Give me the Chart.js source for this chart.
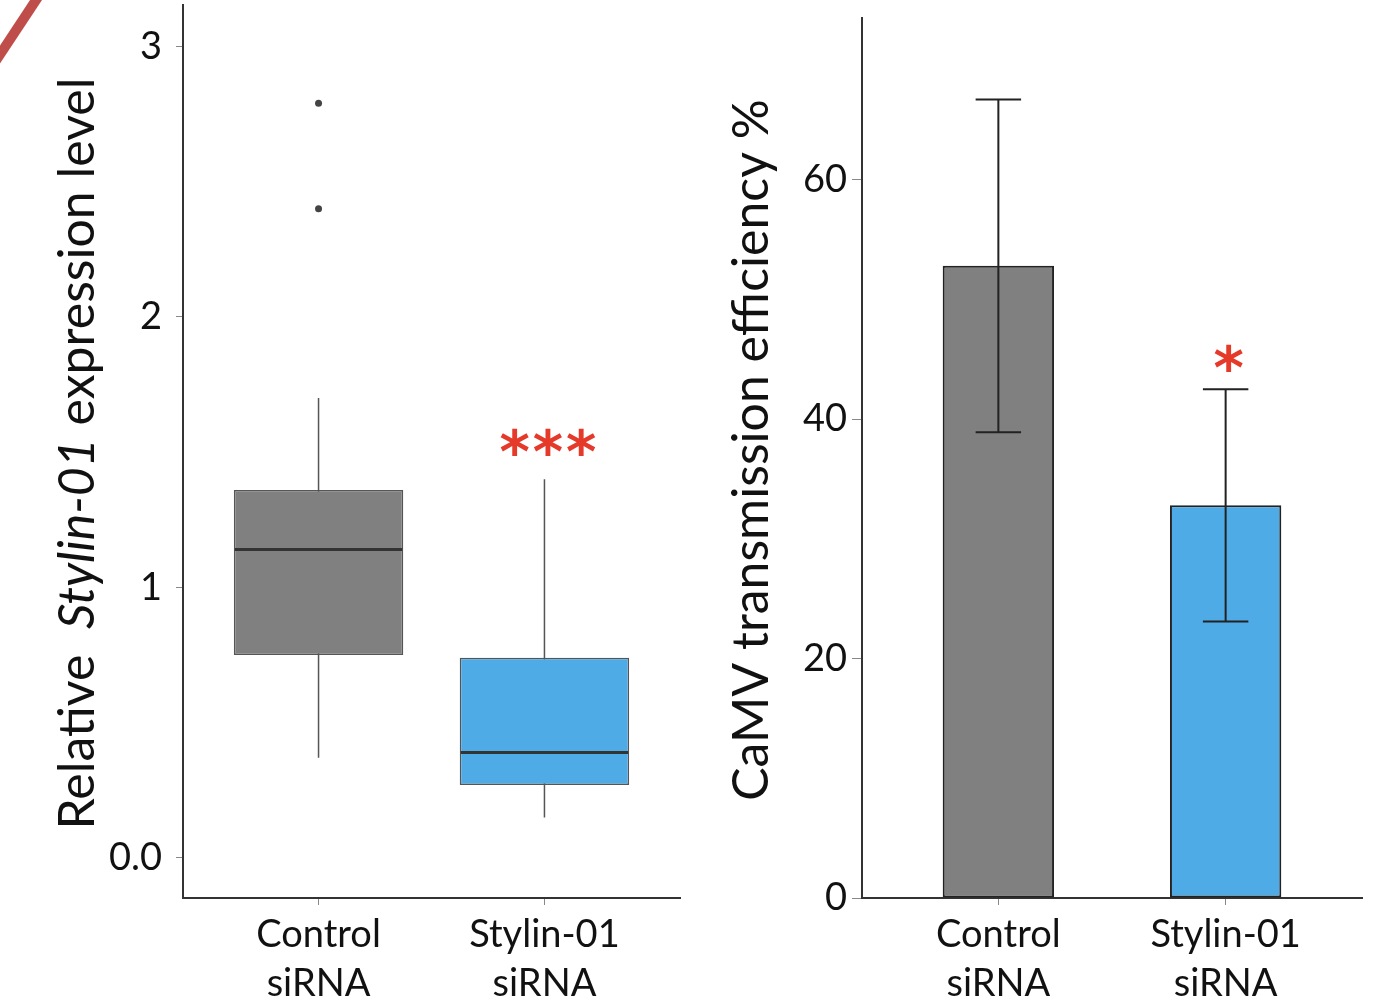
<!DOCTYPE html>
<html>
<head>
<meta charset="utf-8">
<script src="https://cdn.jsdelivr.net/npm/chart.js@4"></script>
<style>
  body { margin: 0; background: #fff; width: 1384px; height: 1000px; position: relative; overflow: hidden; }
  .wrap { position: absolute; top: 0; height: 1000px; }
</style>
</head>
<body>
<div class="wrap" style="left:0;width:690px"><canvas id="left"></canvas></div>
<div class="wrap" style="left:690px;width:694px"><canvas id="right"></canvas></div>
<script>
// categories
const categories = [['Control', 'siRNA'], ['Stylin-01', 'siRNA']];
const barColors = ['#808080', '#4FABE6'];

// left panel: box plot of relative expression
const boxQ1 = [0.75, 0.27];
const boxMedian = [1.14, 0.39];
const boxQ3 = [1.36, 0.74];
const whiskerLow = [0.37, 0.15];
const whiskerHigh = [1.70, 1.40];
const outliers = [[2.79, 2.40], []];
const boxSignif = ['', '***'];
const leftTicks = [0, 1, 2, 3];

// right panel: transmission efficiency (mean +/- error)
const efficiency = [52.8, 32.8];
const efficiencyErr = [13.9, 9.7];
const effSignif = ['', '*'];
const rightTicks = [0, 20, 40, 60];

const FONT = 'Lato';
const RED = '#E5392A';

function noPad(s) {
  s.paddingTop = 0; s.paddingBottom = 0; s.paddingLeft = 0; s.paddingRight = 0;
}

function xScaleOpts() {
  return {
    type: 'linear', min: 0.4, max: 2.6, offset: false,
    afterBuildTicks: s => { s.ticks = categories.map((c, i) => ({ value: i + 1 })); },
    afterFit: s => { s.height = 102; noPad(s); },
    ticks: {
      autoSkip: false, maxRotation: 0, color: '#111', padding: 5,
      font: { family: FONT, size: 38, lineHeight: 1.3 },
      callback: v => categories[v - 1] || ''
    },
    grid: { offset: false, drawOnChartArea: false, drawTicks: true, tickLength: 7, color: '#888' },
    border: { color: '#333', width: 2 }
  };
}

// rotated y title, parts may be italic; dy shifts it along the axis
function yTitle(parts, x, dy) {
  return {
    id: 'ytitle',
    afterDraw(chart) {
      const ctx = chart.ctx;
      const a = chart.chartArea;
      ctx.save();
      ctx.translate(x, (a.top + a.bottom) / 2 + dy);
      ctx.rotate(-Math.PI / 2);
      ctx.fillStyle = '#111';
      ctx.textBaseline = 'middle';
      let total = 0;
      parts.forEach(p => {
        ctx.font = (p.italic ? 'italic ' : '') + '50px ' + FONT;
        p.w = ctx.measureText(p.t).width;
        total += p.w;
      });
      let cx = -total / 2;
      parts.forEach(p => {
        ctx.font = (p.italic ? 'italic ' : '') + '50px ' + FONT;
        ctx.fillText(p.t, cx, 0);
        cx += p.w;
      });
      ctx.restore();
    }
  };
}

const boxPlugin = {
  id: 'boxparts',
  beforeDatasetsDraw(chart) {
    const { ctx, scales: { x, y } } = chart;
    ctx.save();
    ctx.strokeStyle = '#555';
    ctx.lineWidth = 1.5;
    categories.forEach((c, i) => {
      const px = x.getPixelForValue(i + 1);
      ctx.beginPath();
      ctx.moveTo(px, y.getPixelForValue(whiskerLow[i]));
      ctx.lineTo(px, y.getPixelForValue(whiskerHigh[i]));
      ctx.stroke();
    });
    ctx.restore();
  },
  afterDatasetsDraw(chart) {
    const { ctx, scales: { x, y } } = chart;
    const meta = chart.getDatasetMeta(0);
    ctx.save();
    categories.forEach((c, i) => {
      const bar = meta.data[i];
      const py = y.getPixelForValue(boxMedian[i]);
      ctx.strokeStyle = '#333';
      ctx.lineWidth = 3;
      ctx.beginPath();
      ctx.moveTo(bar.x - bar.width / 2 + 1, py);
      ctx.lineTo(bar.x + bar.width / 2 - 1, py);
      ctx.stroke();
      if (boxSignif[i]) {
        ctx.fillStyle = RED;
        ctx.font = 'bold 58px "DejaVu Sans"';
        ctx.letterSpacing = '3px';
        ctx.textAlign = 'center';
        ctx.textBaseline = 'middle';
        ctx.fillText(boxSignif[i], x.getPixelForValue(i + 1) + 5, y.getPixelForValue(whiskerHigh[i]) - 22);
        ctx.letterSpacing = '0px';
      }
    });
    // red stroke in the corner of the source figure
    ctx.strokeStyle = '#BF4E4A';
    ctx.lineWidth = 10;
    ctx.beginPath();
    ctx.moveTo(-5, 62);
    ctx.lineTo(40, -6);
    ctx.stroke();
    ctx.restore();
  }
};

const errPlugin = {
  id: 'errbars',
  afterDatasetsDraw(chart) {
    const { ctx, scales: { x, y } } = chart;
    ctx.save();
    ctx.strokeStyle = '#222';
    ctx.lineWidth = 2;
    categories.forEach((c, i) => {
      const px = x.getPixelForValue(i + 1);
      const cap = x.getPixelForValue(i + 1.1) - px;
      const top = y.getPixelForValue(efficiency[i] + efficiencyErr[i]);
      const bot = y.getPixelForValue(efficiency[i] - efficiencyErr[i]);
      ctx.beginPath();
      ctx.moveTo(px, top); ctx.lineTo(px, bot);
      ctx.moveTo(px - cap, top); ctx.lineTo(px + cap, top);
      ctx.moveTo(px - cap, bot); ctx.lineTo(px + cap, bot);
      ctx.stroke();
      if (effSignif[i]) {
        ctx.fillStyle = RED;
        ctx.font = 'bold 58px "DejaVu Sans"';
        ctx.textAlign = 'center';
        ctx.textBaseline = 'middle';
        ctx.fillText(effSignif[i], px + 3, top - 16);
      }
    });
    ctx.restore();
  }
};

new Chart(document.getElementById('left'), {
  type: 'bar',
  data: {
    datasets: [
      {
        type: 'bar',
        data: categories.map((c, i) => ({ x: i + 1, y: [boxQ1[i], boxQ3[i]] })),
        backgroundColor: barColors,
        borderColor: '#555',
        borderWidth: 1.5,
        borderSkipped: false,
        barPercentage: 0.75,
        categoryPercentage: 1
      },
      {
        type: 'scatter',
        data: outliers.flatMap((arr, i) => arr.map(v => ({ x: i + 1, y: v }))),
        pointRadius: 3.5,
        backgroundColor: '#444',
        borderWidth: 0
      }
    ]
  },
  options: {
    responsive: true,
    maintainAspectRatio: false,
    animation: false,
    layout: { padding: { top: 5, right: 10, left: 0, bottom: 0 } },
    plugins: { legend: { display: false }, tooltip: { enabled: false } },
    scales: {
      x: xScaleOpts(),
      y: {
        min: -0.148, max: 3.153,
        afterBuildTicks: s => { s.ticks = leftTicks.map(v => ({ value: v })); },
        afterFit: s => { s.width = 183; noPad(s); },
        ticks: {
          color: '#111', padding: 14,
          font: { family: FONT, size: 38 },
          callback: v => v === 0 ? '0.0' : String(v)
        },
        grid: { drawOnChartArea: false, drawTicks: true, tickLength: 7, color: '#888' },
        border: { color: '#333', width: 2 }
      }
    }
  },
  plugins: [boxPlugin, yTitle([
    { t: 'Relative  ', italic: false },
    { t: 'Stylin-01', italic: true },
    { t: ' expression level', italic: false }
  ], 78, 2)]
});

new Chart(document.getElementById('right'), {
  type: 'bar',
  data: {
    datasets: [{
      data: categories.map((c, i) => ({ x: i + 1, y: efficiency[i] })),
      backgroundColor: barColors,
      borderColor: '#222',
      borderWidth: 2,
      borderSkipped: false,
      barPercentage: 0.49,
      categoryPercentage: 1
    }]
  },
  options: {
    responsive: true,
    maintainAspectRatio: false,
    animation: false,
    layout: { padding: { top: 18, right: 22, left: 0, bottom: 0 } },
    plugins: { legend: { display: false }, tooltip: { enabled: false } },
    scales: {
      x: xScaleOpts(),
      y: {
        min: 0, max: 73.5,
        afterBuildTicks: s => { s.ticks = rightTicks.map(v => ({ value: v })); },
        afterFit: s => { s.width = 172; noPad(s); },
        ticks: {
          color: '#111', padding: 5,
          font: { family: FONT, size: 38 }
        },
        grid: { drawOnChartArea: false, drawTicks: true, tickLength: 10, color: '#888' },
        border: { color: '#333', width: 2 }
      }
    }
  },
  plugins: [errPlugin, yTitle([
    { t: 'CaMV transmission efficiency %', italic: false }
  ], 62, -8)]
});
</script>
</body>
</html>
